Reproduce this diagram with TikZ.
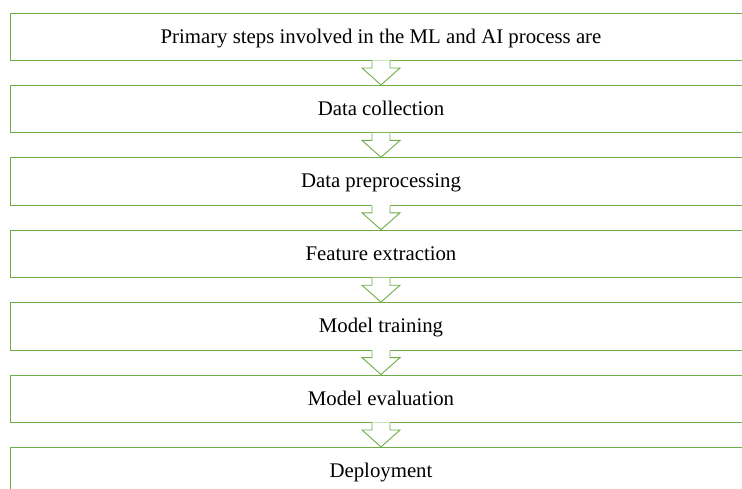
\documentclass[tikz,border=0pt]{standalone}
\usepackage{fontspec}
\setmainfont{Liberation Serif}
\definecolor{boxgreen}{HTML}{70AD47}
\newcommand\flowconn[2]{%
  \fill[white] ([xshift=-9pt,yshift=0.6pt]#1.south) -- ([xshift=-9pt,yshift=-7pt]#1.south)
    -- ([xshift=-19pt,yshift=-7pt]#1.south) -- (#2.north)
    -- ([xshift=19pt,yshift=-7pt]#1.south) -- ([xshift=9pt,yshift=-7pt]#1.south)
    -- ([xshift=9pt,yshift=0.6pt]#1.south) -- cycle;
  \draw[flowarrow] ([xshift=-9pt]#1.south) -- ([xshift=-9pt,yshift=-7pt]#1.south)
    -- ([xshift=-19pt,yshift=-7pt]#1.south) -- (#2.north)
    -- ([xshift=19pt,yshift=-7pt]#1.south) -- ([xshift=9pt,yshift=-7pt]#1.south)
    -- ([xshift=9pt]#1.south);
}
\begin{document}
\begin{tikzpicture}[x=1pt,y=-1pt,
  stepbox/.style={draw=boxgreen, line width=1pt, minimum width=741pt,
    minimum height=47.5pt, inner sep=0pt, anchor=north,
    text height=17pt, text depth=4.5pt,
    font=\fontsize{20.8}{24}\selectfont},
  flowarrow/.style={draw=boxgreen, line width=0.9pt, line join=miter}]
\useasboundingbox (0,0) rectangle (742,488);
\clip (0,0) rectangle (742,488);
\node[stepbox] (s1) at (381,12.5) {Primary steps involved in the ML and AI process are};
\node[stepbox] (s2) at (381,84.9) {Data collection};
\node[stepbox] (s3) at (381,157.3) {Data preprocessing};
\node[stepbox] (s4) at (381,229.7) {Feature extraction};
\node[stepbox] (s5) at (381,302.1) {Model training};
\node[stepbox] (s6) at (381,374.5) {Model evaluation};
\node[stepbox] (s7) at (381,446.9) {Deployment};
\flowconn{s1}{s2}
\flowconn{s2}{s3}
\flowconn{s3}{s4}
\flowconn{s4}{s5}
\flowconn{s5}{s6}
\flowconn{s6}{s7}
\end{tikzpicture}
\end{document}
